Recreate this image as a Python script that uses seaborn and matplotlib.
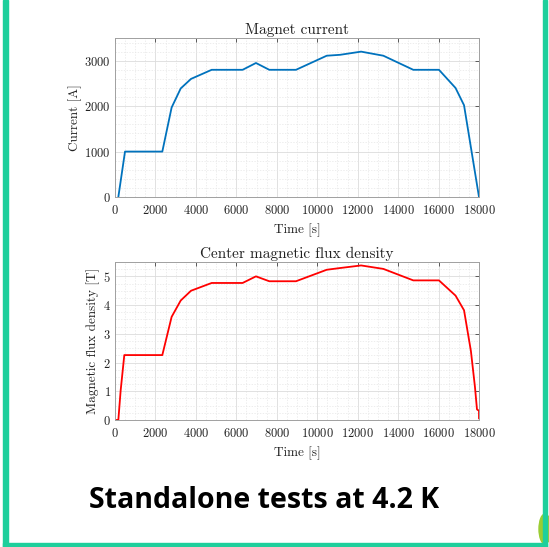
import numpy as np
import pandas as pd
import matplotlib
matplotlib.use("Agg")
import matplotlib.pyplot as plt
import seaborn as sns
from matplotlib.ticker import MultipleLocator
from matplotlib.patches import Rectangle, Ellipse

# ---- data ----
t_current = [165, 495, 2340, 2800, 3250, 3760, 4780, 6310, 6970, 7630, 8950,
             10470, 11130, 12170, 13270, 14750, 16020, 16840, 17260, 18000]
current = [0, 1000, 1000, 1970, 2390, 2600, 2800, 2800, 2950, 2800, 2800,
           3110, 3130, 3200, 3110, 2800, 2800, 2400, 2020, 0]

t_flux = [0, 165, 280, 460, 2340, 2800, 3250, 3760, 4780, 6310, 6970, 7630, 8950,
          10470, 11130, 12170, 13270, 14750, 16020, 16840, 17260, 17600, 17800,
          17900, 18000, 18000]
flux = [0, 0, 1.03, 2.26, 2.26, 3.59, 4.16, 4.5, 4.77, 4.77, 5.0, 4.83, 4.83,
        5.23, 5.29, 5.38, 5.26, 4.86, 4.86, 4.33, 3.82, 2.4, 1.15,
        0.37, 0.32, 0.05]

x_ticks = [0, 2000, 4000, 6000, 8000, 10000, 12000, 14000, 16000, 18000]
y1_ticks = [0, 1000, 2000, 3000]
y2_ticks = [0, 1, 2, 3, 4, 5]

df1 = pd.DataFrame({"t": t_current, "I": current})
df2 = pd.DataFrame({"t": t_flux, "B": flux})

sns.set_theme(style="white")
plt.rcParams["font.family"] = ["cmr10", "DejaVu Serif"]
plt.rcParams["axes.formatter.use_mathtext"] = True
plt.rcParams["mathtext.fontset"] = "cm"

W, H = 549, 547
fig = plt.figure(figsize=(W / 100, H / 100), dpi=100)
fig.patch.set_facecolor("white")

def axrect(l, t, r, b):
    return [l / W, 1 - b / H, (r - l) / W, (b - t) / H]

ax1 = fig.add_axes(axrect(115, 38, 479, 197))
ax2 = fig.add_axes(axrect(115, 262, 479, 420))

sns.lineplot(data=df1, x="t", y="I", ax=ax1, color="#0072BD", lw=1.3,
             sort=False, estimator=None)
sns.lineplot(data=df2, x="t", y="B", ax=ax2, color="#FF0000", lw=1.3,
             sort=False, estimator=None)

def style(ax, yticks, ylim, ymin, title, ylabel):
    ax.set_xlim(0, 18000)
    ax.set_ylim(*ylim)
    ax.set_xticks(x_ticks)
    ax.set_yticks(yticks)
    ax.xaxis.set_minor_locator(MultipleLocator(500))
    ax.yaxis.set_minor_locator(MultipleLocator(ymin))
    ax.grid(True, which="major", color="#dcdcdc", lw=0.6)
    ax.grid(True, which="minor", color="#e6e6e6", lw=0.5, ls=(0, (2, 2)))
    ax.set_axisbelow(True)
    for s in ax.spines.values():
        s.set_color("#a0a0a0")
        s.set_linewidth(0.7)
    ax.tick_params(which="major", direction="in", length=3, width=0.6,
                   color="#444444", top=True, right=True, labelsize=9,
                   labelcolor="#222222", pad=3)
    ax.tick_params(axis="x", which="major", pad=5)
    ax.tick_params(which="minor", length=0)
    ax.set_title(title, fontsize=11, color="#222222", pad=3)
    ax.set_xlabel("Time [s]", fontsize=9.5, color="#222222", labelpad=5)
    ax.set_ylabel(ylabel, fontsize=9.5, color="#222222", labelpad=2)

style(ax1, y1_ticks, (0, 3500), 200, "Magnet current", "Current [A]")
style(ax2, y2_ticks, (0, 5.5), 0.25, "Center magnetic flux density",
      "Magnetic flux density [T]")

fig.text(264 / W, 1 - 500 / H, "Standalone tests at 4.2 K", ha="center",
         va="center", fontsize=20.5, fontweight="bold", family="Open Sans",
         color="black")

# decorative frame
fig.patches.append(Ellipse((545 / W, 1 - 529 / H), 12 / W, 30 / H,
                           transform=fig.transFigure, color="#9acd32",
                           zorder=1))
green = "#1ecf9c"
fig.patches.append(Rectangle((3 / W, 0), 5 / W, 1, transform=fig.transFigure,
                             color=green, zorder=2))
fig.patches.append(Rectangle((543 / W, 0), 4 / W, 1, transform=fig.transFigure,
                             color=green, zorder=2))
fig.patches.append(Rectangle((3 / W, 0), 544 / W, 4 / H,
                             transform=fig.transFigure, color=green, zorder=2))

fig.savefig("out.png", dpi=100)
